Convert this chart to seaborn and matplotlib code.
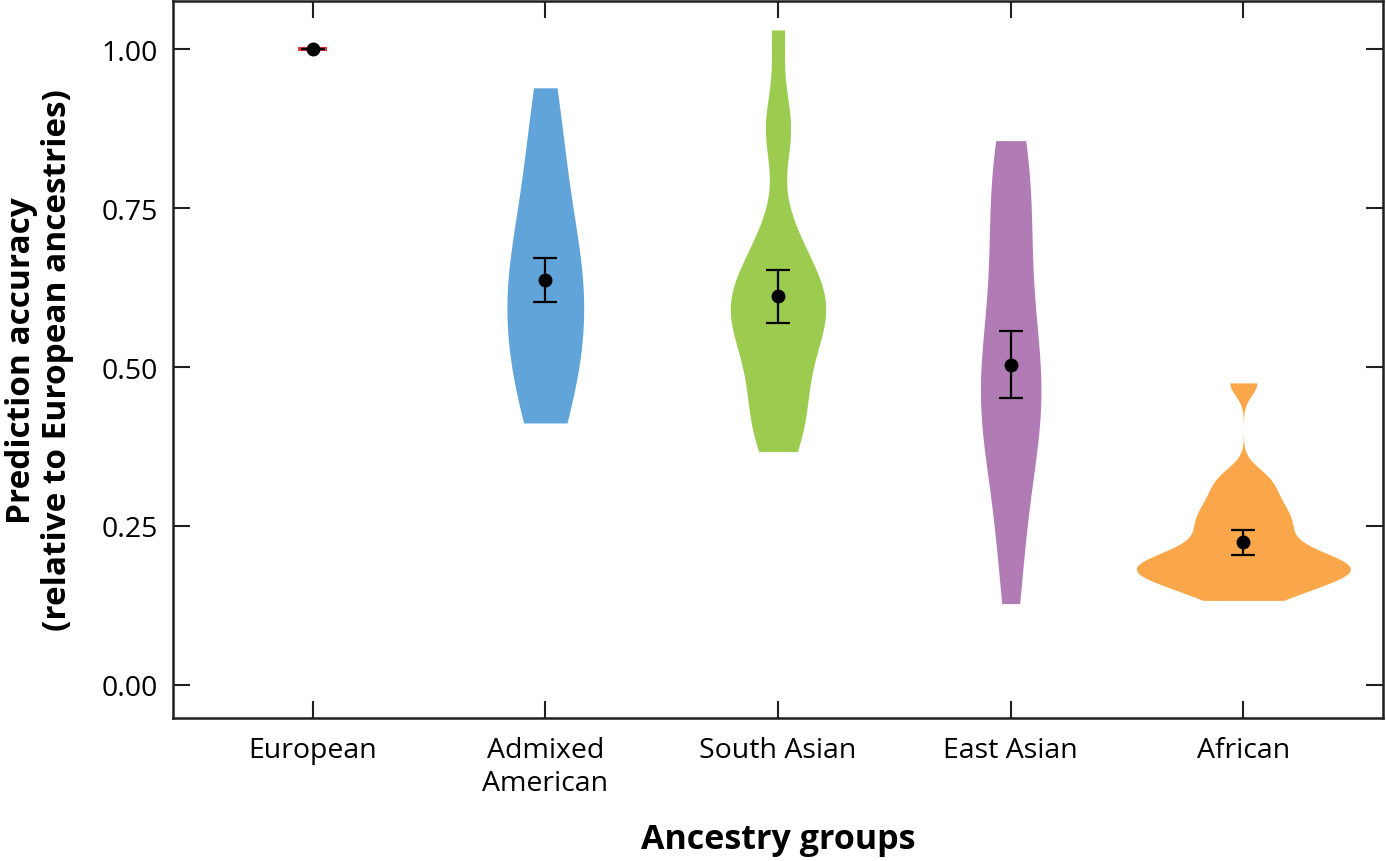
import numpy as np
import pandas as pd
import seaborn as sns
import matplotlib
matplotlib.use("Agg")
import matplotlib.pyplot as plt

# ---------------- data ----------------
categories = ["European", "Admixed\nAmerican", "South Asian", "East Asian", "African"]
colors = ["#E8383D", "#60A4D9", "#9BCC50", "#B17BB5", "#F9A74A"]

admixed_american = [0.412, 0.43, 0.45, 0.48, 0.51, 0.54, 0.56, 0.58, 0.60, 0.62,
                    0.64, 0.66, 0.68, 0.71, 0.75, 0.79, 0.84, 0.89, 0.939]
south_asian = [0.367, 0.39, 0.42, 0.45, 0.48, 0.51, 0.54, 0.56, 0.575, 0.59, 0.60,
               0.615, 0.63, 0.65, 0.68, 0.72, 0.87, 0.88, 1.03]
east_asian = [0.128, 0.20, 0.27, 0.33, 0.38, 0.41, 0.43, 0.45, 0.47, 0.49,
              0.52, 0.56, 0.61, 0.66, 0.71, 0.76, 0.80, 0.83, 0.856]
african = [0.133, 0.145, 0.155, 0.165, 0.17, 0.175, 0.18, 0.185, 0.19, 0.195, 0.20,
           0.21, 0.22, 0.235, 0.25, 0.26, 0.275, 0.29, 0.31, 0.33, 0.475]
european = [1.0]

group_values = [european, admixed_american, south_asian, east_asian, african]

mean_values = [1.000, 0.637, 0.612, 0.503, 0.225]
err_low = [1.000, 0.602, 0.569, 0.451, 0.204]
err_high = [1.000, 0.671, 0.653, 0.557, 0.244]

# styling (not data)
violin_widths = [0.125, 0.33, 0.41, 0.26, 0.92]
bw_adjusts = [1.0, 1.15, 0.6, 0.9, 0.45]

# ---------------- plot ----------------
sns.set_theme(style="white")
plt.rcParams["font.family"] = ["Open Sans", "DejaVu Sans"]
ink = "#231f20"

fig = plt.figure(figsize=(13.86, 8.62), dpi=100)
ax = fig.add_axes([173 / 1386, 1 - 719 / 862, (1383 - 173) / 1386, (719 - 2) / 862])

for i, (cat, vals) in enumerate(zip(categories, group_values)):
    if len(vals) < 2:
        continue
    df = pd.DataFrame({"group": [cat] * len(vals), "acc": vals})
    sns.violinplot(data=df, x="group", y="acc", order=categories, color=colors[i],
                   saturation=1, width=violin_widths[i], cut=0, inner=None,
                   linewidth=0, bw_adjust=bw_adjusts[i], density_norm="width", ax=ax)

# European: degenerate violin -> short red line
ax.plot([0 - violin_widths[0] / 2, 0 + violin_widths[0] / 2],
        [european[0], european[0]], color=colors[0], lw=3, solid_capstyle="butt", zorder=3)

x = np.arange(len(categories))
means = np.array(mean_values)
yerr = np.vstack([means - np.array(err_low), np.array(err_high) - means])
ax.errorbar(x, means, yerr=yerr, fmt="o", color="black", ecolor="black",
            markersize=9, elinewidth=1.6, capsize=8.3, capthick=1.6, zorder=5)

ax.set_xlim(-0.6, 4.6)
ax.set_ylim(-0.0519, 1.0755)
ax.set_yticks([0, 0.25, 0.5, 0.75, 1.0])
ax.set_yticklabels(["0.00", "0.25", "0.50", "0.75", "1.00"])
ax.set_xticks(x)
ax.set_xticklabels(categories)

for s in ax.spines.values():
    s.set_visible(True)
    s.set_linewidth(1.8)
    s.set_color(ink)

ax.tick_params(axis="both", which="major", direction="in", length=12, width=1.5,
               color=ink, labelsize=20.5, labelcolor="black",
               top=True, right=True, bottom=True, left=True)
ax.tick_params(axis="y", pad=11)
ax.tick_params(axis="x", pad=13)
for lab in ax.get_xticklabels():
    lab.set_linespacing(1.25)

ax.set_xlabel("Ancestry groups", fontsize=24.5, fontweight="bold", color="black",
              va="center")
ax.xaxis.set_label_coords(0.5, -0.169)
ax.set_ylabel("Prediction accuracy\n(relative to European ancestries)", fontsize=24,
              fontweight="bold", labelpad=20, linespacing=1.1, color="black")
ax.grid(False)

fig.savefig("out.png", dpi=100)
